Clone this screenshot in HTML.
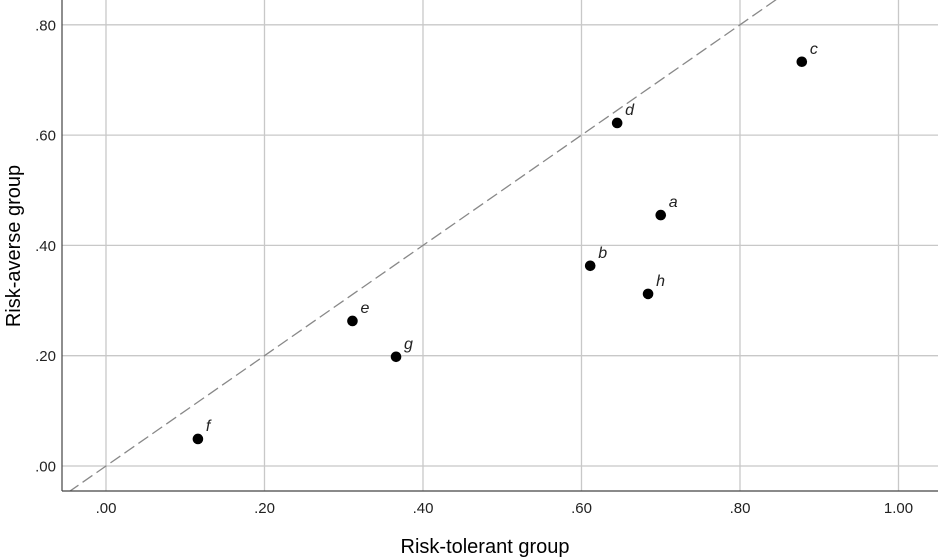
<!DOCTYPE html>
<html><head><meta charset="utf-8"><style>
body{margin:0;background:#fff;}
svg{display:block;font-family:"Liberation Sans",Arial,sans-serif;}
</style></head><body>
<svg id="chart" width="940" height="558" viewBox="0 0 940 558" xmlns="http://www.w3.org/2000/svg">
<defs><clipPath id="plotclip"><rect x="62" y="0" width="876" height="491"/></clipPath></defs>
<g id="grid"></g>
<g id="ticks"></g>
<line id="refline" stroke="#888" stroke-width="1.3" stroke-dasharray="12,5" clip-path="url(#plotclip)"/>
<line x1="62" y1="0" x2="62" y2="491" stroke="#444" stroke-width="1.2"/>
<line x1="62" y1="491" x2="938" y2="491" stroke="#444" stroke-width="1.2"/>
<g id="points"></g>
<text x="485" y="553" font-size="20" text-anchor="middle" fill="#000">Risk-tolerant group</text>
<text transform="translate(20,246) rotate(-90)" font-size="20" text-anchor="middle" fill="#000">Risk-averse group</text>
</svg>
<script>
const labels=["a","b","c","d","e","f","g","h"];
const xVals=[0.700,0.611,0.878,0.645,0.311,0.116,0.366,0.684];
const yVals=[0.455,0.363,0.733,0.622,0.263,0.049,0.198,0.312];
const xTicks=[0,0.2,0.4,0.6,0.8,1.0];
const yTicks=[0,0.2,0.4,0.6,0.8];
const xTickLabels=[".00",".20",".40",".60",".80","1.00"];
const yTickLabels=[".00",".20",".40",".60",".80"];
const NS="http://www.w3.org/2000/svg";
function sx(v){return 106+v*792.5;}
function sy(v){return 466-v*551.5;}
const grid=document.getElementById('grid'),ticks=document.getElementById('ticks'),pts=document.getElementById('points');
xTicks.forEach((t,i)=>{
 const l=document.createElementNS(NS,'line');
 
 
 l.setAttribute('x1',sx(t));l.setAttribute('x2',sx(t));l.setAttribute('y1',0);l.setAttribute('y2',491);
 l.setAttribute('stroke','#c8c8c8');l.setAttribute('stroke-width','1.3');grid.appendChild(l);
 const tx=document.createElementNS(NS,'text');
 
 
 tx.setAttribute('x',sx(t));tx.setAttribute('y',513);tx.setAttribute('font-size','15');tx.setAttribute('text-anchor','middle');tx.setAttribute('fill','#222');
 tx.textContent=xTickLabels[i];ticks.appendChild(tx);
});
yTicks.forEach((t,i)=>{
 const l=document.createElementNS(NS,'line');
 
 
 l.setAttribute('x1',62);l.setAttribute('x2',938);l.setAttribute('y1',sy(t));l.setAttribute('y2',sy(t));
 l.setAttribute('stroke','#c8c8c8');l.setAttribute('stroke-width','1.3');grid.appendChild(l);
 const tx=document.createElementNS(NS,'text');
 
 
 tx.setAttribute('x',56);tx.setAttribute('y',sy(t)+5.5);tx.setAttribute('font-size','15');tx.setAttribute('text-anchor','end');tx.setAttribute('fill','#222');
 tx.textContent=yTickLabels[i];ticks.appendChild(tx);
});
const rl=document.getElementById('refline');
rl.setAttribute('x1',sx(-0.1));rl.setAttribute('y1',sy(-0.1));rl.setAttribute('x2',sx(1.1));rl.setAttribute('y2',sy(1.1));
labels.forEach((lab,i)=>{
 const c=document.createElementNS(NS,'circle');
 
 
 c.setAttribute('cx',sx(xVals[i]));c.setAttribute('cy',sy(yVals[i]));c.setAttribute('r',5.3);c.setAttribute('fill','#000');pts.appendChild(c);
 const t=document.createElementNS(NS,'text');
 
 
 t.setAttribute('x',sx(xVals[i])+8);t.setAttribute('y',sy(yVals[i])-8);t.setAttribute('font-size','16');t.setAttribute('font-style','italic');t.setAttribute('fill','#222');
 t.textContent=lab;pts.appendChild(t);
});
</script>
</body></html>
